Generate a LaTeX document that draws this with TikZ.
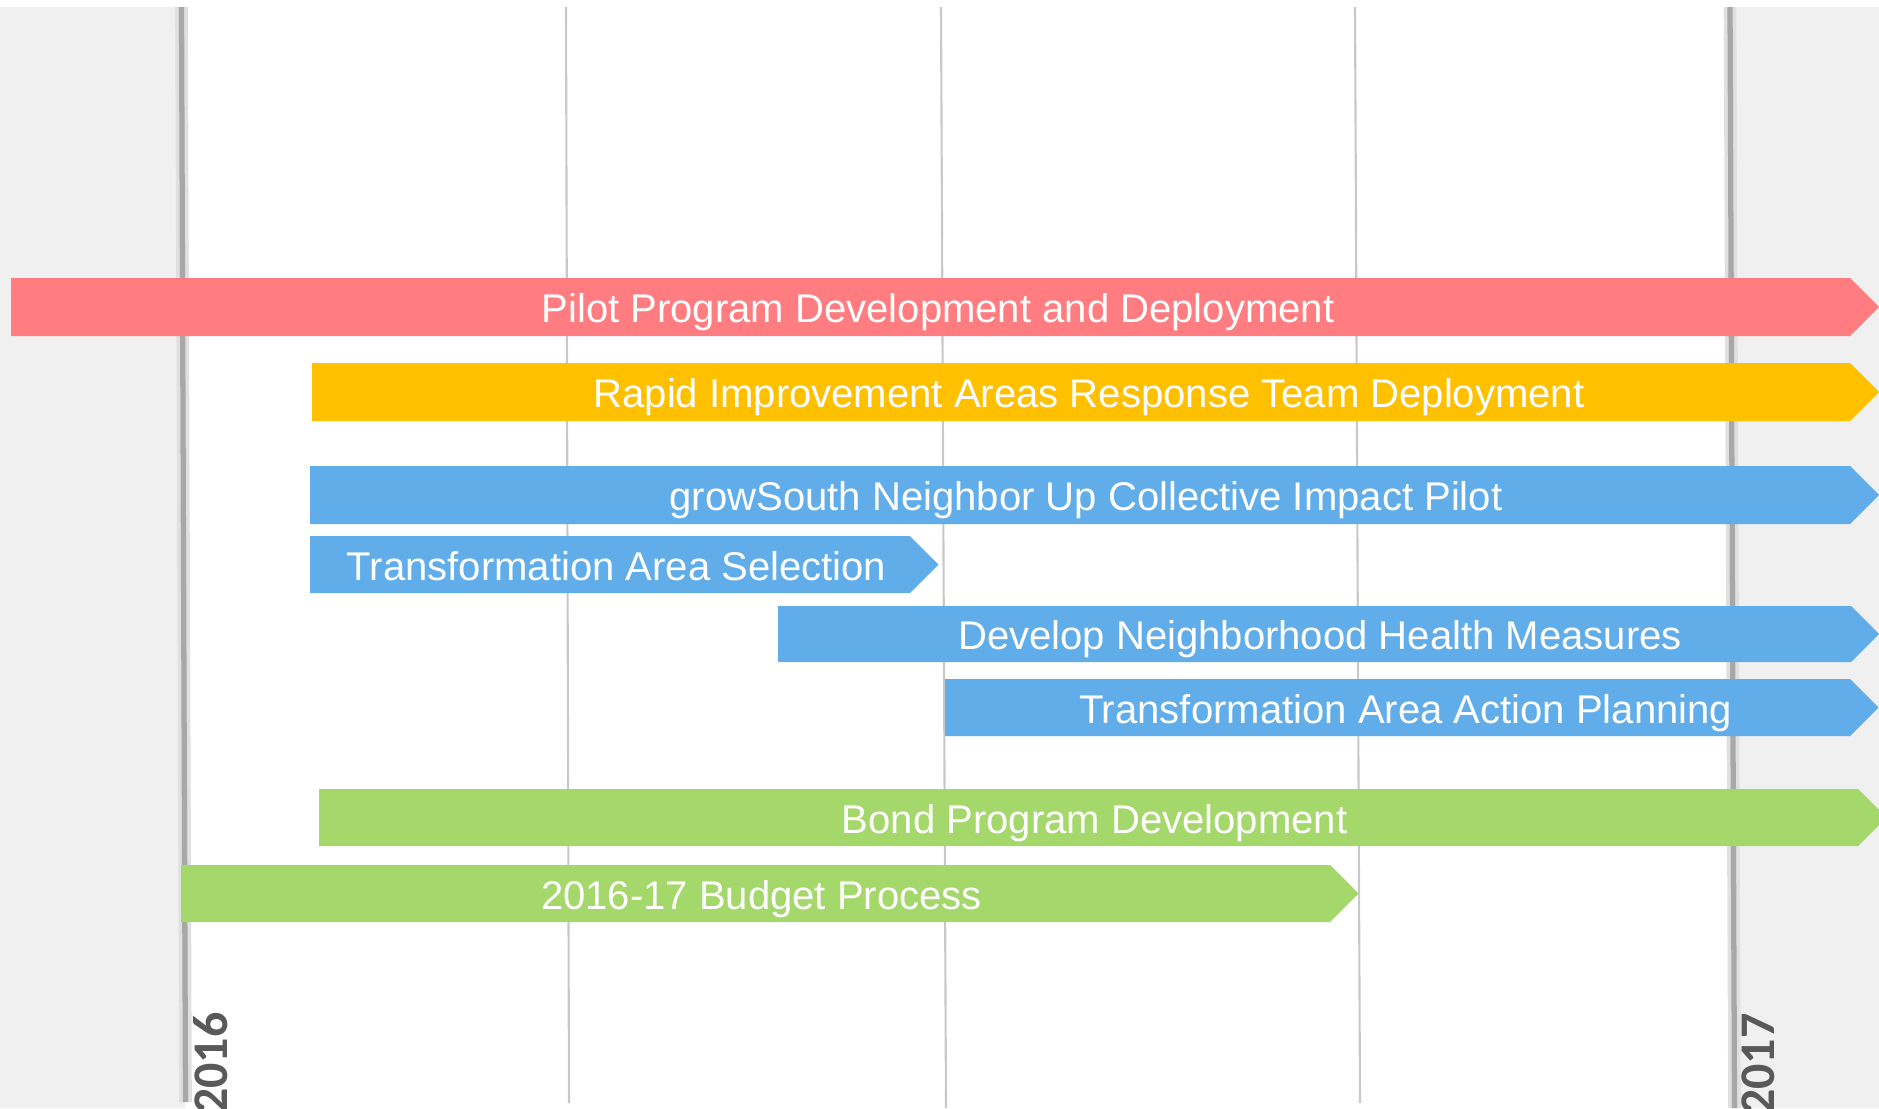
\documentclass[tikz,border=0pt]{standalone}
\usepackage{fontspec}
\setmainfont{Liberation Sans}
\newfontfamily\yearfont{Carlito}
\definecolor{pilotred}{RGB}{255,124,128}
\definecolor{rapidgold}{RGB}{255,192,0}
\definecolor{growblue}{RGB}{97,173,234}
\definecolor{bondgreen}{RGB}{165,216,106}
\definecolor{panelgray}{RGB}{240,240,240}
\definecolor{edgegray}{RGB}{168,168,168}
\definecolor{gridgray}{RGB}{200,200,200}
\definecolor{labelgray}{RGB}{89,89,89}

\begin{document}
\begin{tikzpicture}[scale=0.1]
\tikzstyle{every node}+=[inner sep=0pt]
\tikzstyle{barlabel}=[text=white, font=\fontsize{11.4}{13.7}\selectfont, text height=8.15pt, text depth=0pt]
\tikzstyle{yearlabel}=[text=labelgray, font=\yearfont\bfseries\fontsize{14.2}{17}\selectfont, rotate=90, anchor=base east]
\useasboundingbox (0,0) rectangle (187.9,-110.8);
\clip (0,0) rectangle (187.9,-110.8);
\fill [white] (0,0) rectangle (187.9,-110.8);
\fill [panelgray] (0,-0.7) -- (18.15,-0.7) -- (18.55,-110.8) -- (0,-110.8) -- cycle;
\fill [panelgray] (173.0,-0.7) -- (187.9,-0.7) -- (187.9,-110.8) -- (173.45,-110.8) -- cycle;
% quarter lines
\draw [gridgray, line width=0.6pt] (56.6,-0.7) -- (56.9,-110.3);
\draw [gridgray, line width=0.6pt] (94.1,-0.7) -- (94.6,-110.8);
\draw [gridgray, line width=0.6pt] (135.5,-0.7) -- (136.0,-110.3);
% year lines
\draw [black!12, line width=3.6pt] (18.15,-0.7) -- (18.55,-110.2);
\draw [edgegray, line width=1.5pt] (18.15,-0.7) -- (18.55,-110.2);
\draw [black!12, line width=3.6pt] (173.0,-0.7) -- (173.45,-110.8);
\draw [edgegray, line width=1.5pt] (173.0,-0.7) -- (173.45,-110.8);
% bars
\fill [pilotred] (1.1,-27.8) -- (185.0,-27.8) -- (187.9,-30.7) -- (185.0,-33.6) -- (1.1,-33.6) -- cycle;
\node [barlabel] (pilot) at (93.8,-30.85) {Pilot Program Development and Deployment};
\fill [rapidgold] (31.2,-36.3) -- (185.0,-36.3) -- (187.9,-39.2) -- (185.0,-42.1) -- (31.2,-42.1) -- cycle;
\node [barlabel] (rapid) at (108.9,-39.35) {Rapid Improvement Areas Response Team Deployment};
\fill [growblue] (31.0,-46.6) -- (185.0,-46.6) -- (187.9,-49.5) -- (185.0,-52.4) -- (31.0,-52.4) -- cycle;
\node [barlabel] (grow) at (108.6,-49.65) {growSouth Neighbor Up Collective Impact Pilot};
\fill [growblue] (31.0,-53.6) -- (91.0,-53.6) -- (93.85,-56.45) -- (91.0,-59.3) -- (31.0,-59.3) -- cycle;
\node [barlabel] (select) at (61.65,-56.6) {Transformation Area Selection};
\fill [growblue] (77.8,-60.6) -- (185.1,-60.6) -- (187.9,-63.4) -- (185.1,-66.2) -- (77.8,-66.2) -- cycle;
\node [barlabel] (health) at (132.0,-63.55) {Develop Neighborhood Health Measures};
\fill [growblue] (94.5,-67.9) -- (185.0,-67.9) -- (187.85,-70.75) -- (185.0,-73.6) -- (94.5,-73.6) -- cycle;
\node [barlabel] (action) at (140.56,-70.9) {Transformation Area Action Planning};
\fill [bondgreen] (31.9,-78.9) -- (185.8,-78.9) -- (188.65,-81.75) -- (185.8,-84.6) -- (31.9,-84.6) -- cycle;
\node [barlabel] (bond) at (109.46,-81.9) {Bond Program Development};
\fill [bondgreen] (18.1,-86.5) -- (133.0,-86.5) -- (135.85,-89.35) -- (133.0,-92.2) -- (18.1,-92.2) -- cycle;
\node [barlabel] (budget) at (76.15,-89.5) {2016-17 Budget Process};
% years
\node [yearlabel] (y2016) at (22.7,-101.2) {2016};
\node [yearlabel] (y2017) at (177.4,-101.3) {2017};
\end{tikzpicture}
\end{document}
